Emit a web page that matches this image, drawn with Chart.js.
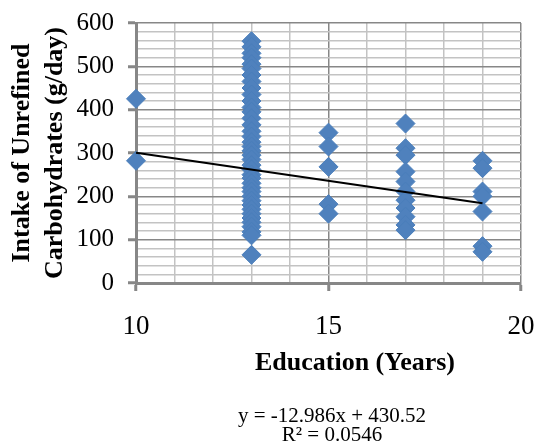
<!DOCTYPE html>
<html>
<head>
<meta charset="utf-8">
<script src="https://cdn.jsdelivr.net/npm/chart.js@4/dist/chart.umd.min.js"></script>
<style>
  html, body { margin: 0; padding: 0; background: #ffffff; }
  #wrap { position: relative; width: 537px; height: 447px; }
  #c { position: absolute; left: 0; top: 0; }
  .txt { position: absolute; text-align: center; white-space: nowrap;
         font-family: "Liberation Serif", "Times New Roman", serif; color: #000; }
  .eq { left: 0; width: 664px; font-size: 21px; line-height: 21px; }
  #xt { left: 0; width: 710px; top: 347px; font-size: 26px; line-height: 30px; font-weight: bold; }
</style>
</head>
<body>
<div id="wrap">
  <canvas id="c" width="537" height="447"></canvas>
  <div class="txt" id="xt">Education (Years)</div>
  <div class="txt eq" id="eq1" style="top:405px;">y = -12.986x + 430.52</div>
  <div class="txt eq" id="eq2" style="top:424px;">R² = 0.0546</div>
</div>
<script>
// ---- Data ----
const educationYears = [10, 13, 15, 17, 19];
const intakeAt10 = [425, 282];
const intakeAt13 = [558, 545, 530, 520, 505, 495, 480, 465, 450, 435, 420, 405, 395, 380, 365, 350, 338, 325, 315, 305,
                    295, 285, 272, 262, 250, 242, 230, 220, 211, 200, 190, 180, 170, 160, 150, 140, 130, 118, 110, 65];
const intakeAt15 = [347, 315, 268, 182, 160];
const intakeAt17 = [368, 311, 295, 257, 234, 211, 191, 173, 153, 134, 122];
const intakeAt19 = [282, 265, 211, 200, 165, 85, 72];
const intakeSeries = [intakeAt10, intakeAt13, intakeAt15, intakeAt17, intakeAt19];
// Linear trendline endpoints (y = -12.986x + 430.52)
const trendX = [10, 19];
const trendY = [300.66, 183.79];
const xTickLabels = [10, 15, 20];
const yTickLabels = [0, 100, 200, 300, 400, 500, 600];

const points = [];
educationYears.forEach((yr, i) => intakeSeries[i].forEach(v => points.push({x: yr, y: v})));
const trend = trendX.map((x, i) => ({x: x, y: trendY[i]}));

const MAJOR = '#878787', MINOR = '#c3c3c3';
const serif = '"Liberation Serif", "Times New Roman", serif';

new Chart(document.getElementById('c'), {
  type: 'scatter',
  data: {
    datasets: [
      { label: 'Trend', type: 'line', data: trend, borderColor: '#000', borderWidth: 2,
        pointRadius: 0, fill: false, order: 0, clip: false },
      { label: 'Intake', data: points, pointStyle: 'rectRot', pointRadius: 9.5, pointHoverRadius: 9.5,
        backgroundColor: '#4f81bd', borderColor: '#4a7ebb', borderWidth: 1, order: 1, clip: false }
    ]
  },
  options: {
    responsive: false,
    animation: false,
    events: [],
    layout: { padding: { left: 0, right: 16, top: 23, bottom: 0 } },
    plugins: { legend: { display: false }, tooltip: { enabled: false } },
    scales: {
      x: {
        type: 'linear', min: 10, max: 20,
        afterFit: s => { s.height = 164; s.paddingLeft = 0; s.paddingRight = 0; },
        border: { color: MAJOR, width: 3 },
        grid: {
          color: c => (c.tick && xTickLabels.includes(c.tick.value)) ? MAJOR : MINOR,
          lineWidth: 1.5,
          tickColor: c => (c.tick && xTickLabels.includes(c.tick.value)) ? MAJOR : 'rgba(0,0,0,0)',
          tickLength: 8, tickWidth: 3
        },
        ticks: {
          stepSize: 1, autoSkip: false, maxRotation: 0, padding: 20,
          color: '#000', font: { family: serif, size: 27 },
          callback: v => xTickLabels.includes(v) ? String(v) : ''
        }
      },
      y: {
        type: 'linear', min: 0, max: 600,
        afterFit: s => { s.width = 136; s.paddingTop = 0; s.paddingBottom = 0; },
        border: { color: MAJOR, width: 3 },
        grid: {
          color: c => (c.tick && yTickLabels.includes(c.tick.value)) ? MAJOR : MINOR,
          lineWidth: 1.5,
          tickColor: c => (c.tick && yTickLabels.includes(c.tick.value)) ? MAJOR : 'rgba(0,0,0,0)',
          tickLength: 8, tickWidth: 3
        },
        ticks: {
          stepSize: 20, autoSkip: false, padding: 14,
          color: '#000', font: { family: serif, size: 25 },
          callback: v => yTickLabels.includes(v) ? String(v) : ''
        },
        title: { display: true, text: ['Intake of Unrefined', 'Carbohydrates (g/day)'], color: '#000',
                 font: { family: serif, size: 26, weight: 'bold', lineHeight: 1.3 }, padding: { top: 5, bottom: 0 } }
      }
    }
  }
});
</script>
</body>
</html>
